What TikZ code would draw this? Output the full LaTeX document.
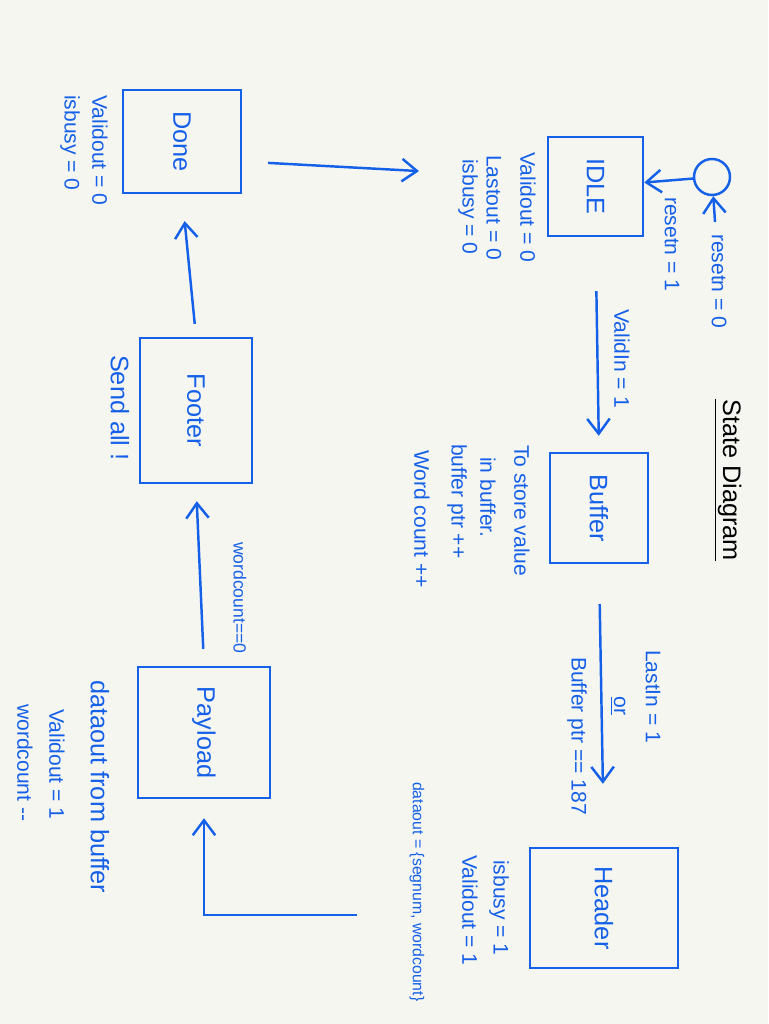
\documentclass[tikz,border=0pt]{standalone}
\usepackage{fontspec}
\setmainfont{Liberation Sans}
\usetikzlibrary{arrows.meta,positioning}
\definecolor{ink}{RGB}{21,96,232}
\definecolor{paper}{RGB}{246,246,241}

\begin{document}
\begin{tikzpicture}[x=0.02cm, y=0.02cm,
  state/.style={draw=ink, line width=1.4pt, inner sep=0pt, text=ink, font=\Large},
  note/.style={text=ink, font=\large, rotate=-90, anchor=west, inner sep=1pt},
  arr/.style={draw=ink, line width=1.4pt, -{Straight Barb[length=3mm, width=4.5mm]}}
]
\fill[paper] (0,0) rectangle (768,-1024);
\useasboundingbox (0,0) rectangle (768,-1024);

% Title
\node[font=\Large, rotate=-90] (title) at (728,-480) {\underline{State Diagram}};

% States
\node[state, minimum width=2.36cm, minimum height=2.06cm] (done) at (182,-141.5) {\rotatebox{-90}{Done}};
\node[state, minimum width=1.9cm, minimum height=1.98cm] (idle) at (595.5,-186.5) {\rotatebox{-90}{IDLE}};
\node[state, minimum width=1.96cm, minimum height=2.2cm] (buffer) at (599,-508) {\rotatebox{-90}{Buffer}};
\node[state, minimum width=2.96cm, minimum height=2.4cm] (header) at (604,-908) {\rotatebox{-90}{Header}};
\node[state, minimum width=2.64cm, minimum height=2.62cm] (payload) at (204,-732.5) {\rotatebox{-90}{Payload}};
\node[state, minimum width=2.24cm, minimum height=2.9cm] (footer) at (196,-410.5) {\rotatebox{-90}{Footer}};
\node[draw=ink, line width=1.4pt, circle, minimum size=0.72cm, inner sep=0pt] (reset) at (712,-177) {};

% Outputs of each state
\node[note] (doneA) at (100,-93) {Validout = 0};
\node[note] (doneB) at (70,-93) {isbusy = 0};
\node[note] (idleA) at (528,-150) {Validout = 0};
\node[note] (idleB) at (494,-153) {Lastout = 0};
\node[note] (idleC) at (468,-157) {isbusy = 0};
\node[note] (bufA) at (522,-443) {To store value};
\node[note] (bufB) at (488,-455) {in buffer.};
\node[note] (bufC) at (457,-442) {buffer ptr ++};
\node[note] (bufD) at (422,-448) {Word count ++};
\node[note] (headA) at (499,-858) {isbusy = 1};
\node[note] (headB) at (470,-853) {Validout = 1};
\node[note, font=\small] (headC) at (417,-780) {dataout = \{segnum, wordcount\}};
\node[note, font=\Large] (payA) at (100,-678) {dataout from buffer};
\node[note] (payB) at (57,-707) {Validout = 1};
\node[note] (payC) at (25,-702) {wordcount -{}-};
\node[note, font=\Large] (footA) at (120,-353) {Send all !};

% Transitions
\node[note] (rst0) at (719,-232) {resetn = 0};
\draw[arr, shorten <=0.2cm] (rst0) -- (reset);
\draw[arr] (reset) -- (idle);
\node[note] (rst1) at (672,-195) {resetn = 1};
\draw[arr, shorten <=0.52cm, shorten >=2.56cm] ([yshift=-0.4cm]done.east) -- ([yshift=0.17cm]idle.west);
\draw[arr, shorten <=1.08cm, shorten >=0.32cm] (idle.south) -- (buffer.north);
\node[note] (valid) at (622,-307) {ValidIn = 1};
\draw[arr, shorten <=0.8cm, shorten >=1.26cm] (buffer.south) -- (header.north);
\node[note] (last) at (653,-648) {LastIn = 1};
\node[note, anchor=center] (or) at (618,-706) {\underline{or}};
\node[note] (ptr) at (577,-655) {Buffer ptr == 187};
\draw[arr, shorten <=3.44cm, shorten >=0.38cm] ([yshift=-0.14cm]header.west) -| (payload.south);
\draw[arr, shorten <=0.34cm, shorten >=0.34cm] (payload.north) -- (footer.south);
\node[note, font=\normalsize] (wc) at (240,-540) {wordcount==0};
\draw[arr, shorten <=0.26cm, shorten >=0.54cm] (footer.north) -- (done.south);

\end{tikzpicture}
\end{document}
